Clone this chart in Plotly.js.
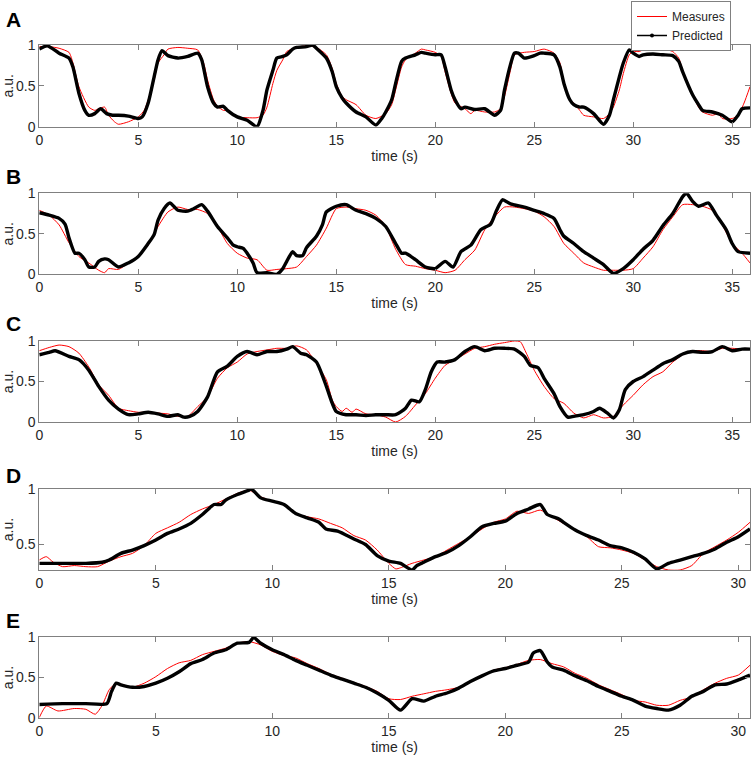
<!DOCTYPE html>
<html>
<head>
<meta charset="utf-8">
<script src="https://cdn.plot.ly/plotly-3.0.1.min.js"></script>
<style>
  html, body { margin: 0; padding: 0; background: #fff; }
  #chart { width: 754px; height: 761px; }
</style>
</head>
<body>
<div id="chart"></div>
<script>
// panel A - measured
var tA_meas = [0,0.5,1,1.5,1.7,2,2.5,2.8,3,3.3,3.5,3.8,4,4.5,5,5.3,5.5,5.8,6,6.3,6.5,7,7.5,8,8.3,8.5,8.8,9,9.3,9.5,10,10.5,11,11.3,11.5,11.8,12,12.3,12.5,13,13.5,14,14.5,14.8,15,15.3,15.5,16,16.5,17,17.5,17.8,18,18.3,18.5,19,19.3,19.5,20,20.3,20.5,20.8,21,21.5,21.8,22,22.5,23,23.3,23.5,23.8,24,24.5,25,25.5,26,26.3,26.5,26.8,27,27.3,27.5,28,28.5,28.8,29,29.3,29.5,29.8,30,30.3,30.5,31,31.5,32,32.3,32.5,33,33.3,33.5,34,34.3,34.5,35,35.3,35.6,35.9];
var A_meas = [0.98,0.98,0.96,0.91,0.78,0.49,0.24,0.2,0.22,0.24,0.14,0.06,0.03,0.06,0.12,0.2,0.33,0.57,0.78,0.88,0.95,0.97,0.96,0.94,0.78,0.57,0.33,0.25,0.2,0.2,0.12,0.11,0.11,0.14,0.24,0.53,0.69,0.82,0.92,0.97,0.99,0.97,0.88,0.71,0.53,0.37,0.33,0.27,0.14,0.1,0.16,0.27,0.45,0.73,0.82,0.9,0.95,0.94,0.91,0.86,0.67,0.41,0.29,0.22,0.16,0.2,0.18,0.18,0.22,0.37,0.69,0.88,0.91,0.92,0.95,0.9,0.78,0.53,0.33,0.29,0.2,0.14,0.12,0.1,0.16,0.24,0.45,0.65,0.88,0.92,0.92,0.94,0.96,0.95,0.92,0.84,0.69,0.39,0.24,0.18,0.14,0.16,0.1,0.1,0.14,0.29,0.49];
// panel A - predicted
var tA_pred = [0,0.4,1,1.5,1.7,2,2.3,2.5,2.8,3.1,3.4,3.7,4,4.5,5,5.2,5.5,5.8,6,6.2,6.5,7,7.5,8,8.2,8.5,8.8,9,9.3,9.5,10,10.5,11,11.3,11.5,11.8,12,12.3,12.5,12.8,13,13.5,13.8,14,14.5,14.8,15,15.3,15.5,16,16.5,17,17.3,17.5,17.8,18,18.3,18.5,19,19.3,19.5,20,20.3,20.5,20.8,21,21.3,21.5,22,22.5,23,23.3,23.5,23.8,24,24.2,24.5,25,25.3,25.5,26,26.3,26.5,26.8,27,27.3,27.5,28,28.5,28.8,29,29.3,29.5,29.8,30,30.3,30.5,31,31.5,32,32.3,32.5,33,33.3,33.5,34,34.5,35,35.3,35.5,35.9];
var A_pred = [0.95,0.99,0.9,0.84,0.73,0.41,0.2,0.14,0.16,0.22,0.16,0.14,0.14,0.13,0.1,0.12,0.29,0.61,0.82,0.93,0.87,0.84,0.86,0.9,0.82,0.49,0.29,0.24,0.25,0.2,0.12,0.08,0.0,0.2,0.45,0.69,0.84,0.86,0.88,0.95,0.97,0.98,1.0,0.96,0.84,0.67,0.49,0.35,0.29,0.18,0.12,0.02,0.1,0.18,0.33,0.53,0.8,0.84,0.88,0.91,0.9,0.88,0.88,0.73,0.45,0.33,0.22,0.24,0.21,0.22,0.14,0.2,0.45,0.76,0.9,0.9,0.84,0.87,0.9,0.9,0.88,0.73,0.53,0.33,0.27,0.24,0.24,0.16,0.03,0.14,0.33,0.61,0.78,0.94,0.9,0.86,0.88,0.89,0.88,0.87,0.8,0.67,0.39,0.27,0.2,0.18,0.14,0.06,0.14,0.22,0.23];

// panel B - measured
var tB_meas = [0,0.5,1,1.5,2,2.5,3,3.3,3.5,4,4.5,5,5.5,6,6.5,7,7.5,8,8.5,9,9.5,10,10.5,11,11.5,12,12.5,13,13.5,14,14.5,15,15.5,16,16.5,17,17.5,18,18.5,19,19.5,20,20.5,21,21.5,22,22.5,23,23.5,24,24.5,25,25.5,26,26.5,27,27.5,28,28.5,29,29.5,30,30.5,31,31.5,32,32.5,33,33.5,34,34.5,35,35.5,35.9];
var B_meas = [0.79,0.73,0.61,0.39,0.22,0.14,0.05,0.02,0.07,0.06,0.14,0.23,0.36,0.59,0.77,0.83,0.8,0.8,0.75,0.59,0.38,0.26,0.2,0.18,0.05,0.06,0.07,0.09,0.22,0.36,0.57,0.81,0.83,0.81,0.79,0.73,0.59,0.31,0.12,0.1,0.07,0.05,0.02,0.05,0.18,0.3,0.55,0.71,0.83,0.83,0.81,0.78,0.71,0.59,0.38,0.26,0.14,0.09,0.05,0.05,0.05,0.07,0.2,0.34,0.55,0.71,0.86,0.86,0.84,0.79,0.61,0.38,0.26,0.14];
// panel B - predicted
var tB_pred = [0,0.5,1,1.3,1.5,1.8,2,2.3,2.5,2.8,3,3.3,3.5,4,4.5,5,5.5,5.8,6,6.3,6.6,7,7.5,7.8,8.2,8.5,9,9.5,9.8,10,10.3,10.5,10.8,11,11.5,12,12.3,12.5,12.8,13,13.3,13.5,14,14.3,14.5,15,15.5,16,16.5,17,17.5,18,18.3,18.5,19,19.5,20,20.5,20.9,21.3,21.8,22.3,22.8,23.1,23.4,23.8,24.5,25,25.5,26,26.3,26.5,27,27.5,28,28.5,29,29.5,30,30.5,31,31.5,32,32.5,32.7,33,33.3,33.8,34.2,34.7,35,35.3,35.9];
var B_pred = [0.76,0.73,0.69,0.62,0.45,0.26,0.26,0.18,0.09,0.09,0.16,0.19,0.18,0.09,0.14,0.22,0.38,0.49,0.67,0.81,0.88,0.79,0.78,0.81,0.86,0.78,0.59,0.45,0.36,0.34,0.32,0.26,0.14,0.02,0.02,0.0,0.07,0.16,0.28,0.23,0.23,0.33,0.47,0.61,0.77,0.84,0.86,0.79,0.75,0.69,0.59,0.38,0.26,0.26,0.18,0.09,0.07,0.16,0.09,0.28,0.36,0.55,0.62,0.79,0.92,0.87,0.83,0.79,0.75,0.69,0.55,0.47,0.38,0.28,0.2,0.12,0.01,0.07,0.18,0.31,0.42,0.6,0.75,0.96,1.0,0.9,0.84,0.88,0.73,0.55,0.38,0.28,0.26];

// panel C - measured
var tC_meas = [0,0.5,1,1.5,2,2.5,3,3.5,4,4.5,5,5.5,6,6.5,7,7.5,8,8.5,9,9.5,10,10.5,11,11.5,12,12.5,13,13.5,14,14.5,14.8,15,15.3,15.5,15.8,16,16.5,17,17.5,18,18.5,19,19.5,20,20.5,21,21.5,22,22.5,23,23.5,24,24.3,24.6,25,25.5,26,26.5,27,27.5,28,28.5,29,29.5,30,30.5,31,31.5,32,32.5,33,33.5,34,34.5,35,35.5,35.9];
var C_meas = [0.88,0.92,0.95,0.93,0.85,0.68,0.46,0.33,0.17,0.14,0.12,0.12,0.11,0.1,0.07,0.07,0.19,0.31,0.54,0.67,0.74,0.84,0.87,0.89,0.91,0.91,0.94,0.89,0.72,0.52,0.27,0.19,0.13,0.17,0.12,0.16,0.1,0.09,0.06,0.0,0.07,0.21,0.35,0.54,0.7,0.77,0.84,0.91,0.93,0.96,0.98,1.0,0.99,0.85,0.64,0.44,0.29,0.23,0.11,0.05,0.09,0.05,0.07,0.21,0.33,0.46,0.56,0.62,0.74,0.83,0.88,0.88,0.87,0.91,0.91,0.9,0.9];
// panel C - predicted
var tC_pred = [0,0.5,0.8,1.5,2,2.5,3,3.5,4,4.5,5,5.5,6,6.5,7,7.3,7.6,8,8.5,9,9.5,10,10.5,11,11.5,12,12.5,12.8,13.2,13.5,14,14.5,14.8,15,15.5,16,16.5,17,17.5,18,18.5,18.8,19.2,19.5,19.8,20.1,20.5,21,21.5,22,22.5,23,23.5,24,24.5,24.8,25.2,25.5,26,26.3,26.7,27,27.5,28,28.3,28.7,29,29.3,29.6,30,30.5,31,31.5,32,32.5,33,33.5,34,34.5,35,35.5,35.9];
var C_pred = [0.83,0.86,0.88,0.81,0.77,0.64,0.44,0.27,0.16,0.09,0.1,0.12,0.1,0.07,0.09,0.06,0.07,0.13,0.31,0.62,0.69,0.81,0.87,0.83,0.87,0.87,0.9,0.93,0.85,0.83,0.74,0.44,0.23,0.13,0.09,0.09,0.08,0.09,0.09,0.09,0.17,0.27,0.25,0.4,0.62,0.74,0.74,0.77,0.87,0.93,0.88,0.91,0.91,0.9,0.81,0.7,0.67,0.54,0.35,0.19,0.06,0.07,0.09,0.13,0.17,0.11,0.05,0.15,0.4,0.5,0.56,0.64,0.72,0.77,0.84,0.87,0.86,0.87,0.93,0.88,0.9,0.9];

// panel D - measured
var tD_meas = [0,0.3,0.6,1,1.5,2,2.5,3,3.5,4,4.5,5,5.5,6,6.5,7,7.5,8,8.5,9,9.5,10,10.5,11,11.5,12,12.5,13,13.5,14,14.5,15,15.3,15.5,16,16.5,17,17.5,18,18.5,19,19.5,20,20.5,21,21.5,22,22.5,23,23.5,24,24.5,25,25.5,26,26.5,27,27.5,28,28.5,29,29.5,30,30.5];
var D_meas = [0.36,0.39,0.34,0.3,0.31,0.3,0.3,0.35,0.39,0.42,0.49,0.6,0.65,0.7,0.77,0.82,0.86,0.91,0.96,0.99,0.93,0.89,0.86,0.78,0.75,0.73,0.69,0.65,0.58,0.54,0.45,0.33,0.28,0.29,0.33,0.36,0.39,0.45,0.51,0.57,0.64,0.7,0.73,0.8,0.78,0.81,0.75,0.69,0.63,0.57,0.48,0.47,0.45,0.42,0.36,0.3,0.27,0.27,0.31,0.42,0.48,0.54,0.61,0.7];
// panel D - predicted
var tD_pred = [0,1,2,2.7,3,3.5,4,4.5,5,5.5,6,6.5,7,7.5,7.8,8,8.5,9,9.1,9.5,10,10.5,11,11.5,12,12.3,12.8,13.5,14,14.5,15,15.5,16,16.2,16.5,17,17.5,18,18.5,19,19.5,20,20.5,21,21.5,21.8,22.3,22.5,23,23.5,24,24.5,25,25.5,26,26.5,27,27.5,28,28.5,29,29.5,30,30.5];
var D_pred = [0.33,0.33,0.33,0.34,0.36,0.42,0.45,0.49,0.54,0.6,0.64,0.69,0.77,0.86,0.86,0.9,0.95,0.99,1.0,0.92,0.89,0.86,0.78,0.74,0.7,0.64,0.62,0.55,0.5,0.4,0.35,0.33,0.27,0.31,0.34,0.39,0.43,0.49,0.57,0.66,0.69,0.71,0.78,0.82,0.86,0.77,0.73,0.7,0.63,0.58,0.54,0.49,0.47,0.43,0.37,0.28,0.33,0.36,0.39,0.42,0.46,0.52,0.57,0.64];

// panel E - measured
var tE_meas = [0,0.3,0.8,1.5,2,2.4,2.7,3,3.3,3.6,4,4.5,5,5.5,6,6.5,7,7.5,8,8.5,9,9.5,10,10.5,11,11.5,12,12.5,13,13.5,14,14.5,15,15.5,16,16.5,17,17.5,18,18.5,19,19.5,20,20.5,21,21.5,22,22.5,23,23.5,24,24.5,25,25.5,26,26.5,27,27.5,28,28.5,29,29.5,30,30.5];
var E_meas = [0.01,0.15,0.09,0.12,0.11,0.05,0.16,0.35,0.43,0.41,0.38,0.43,0.51,0.61,0.68,0.71,0.78,0.82,0.86,0.92,0.94,0.9,0.82,0.77,0.74,0.67,0.61,0.54,0.49,0.44,0.39,0.33,0.24,0.23,0.27,0.3,0.33,0.35,0.38,0.45,0.52,0.59,0.62,0.66,0.71,0.72,0.67,0.63,0.55,0.49,0.41,0.35,0.29,0.22,0.2,0.16,0.16,0.22,0.26,0.35,0.43,0.49,0.53,0.65];
// panel E - predicted
var tE_pred = [0,1,2,2.9,3.1,3.3,3.5,4,4.5,5,5.5,6,6.5,7,7.5,8,8.5,9,9.2,9.5,10,10.5,11,11.5,12,12.5,13,13.5,14,14.5,15,15.5,16,16.5,17,17.5,18,18.5,19,19.5,20,20.5,21,21.2,21.5,21.8,22,22.5,23,23.5,24,24.5,25,25.5,26,26.5,27,27.5,28,28.5,29,29.5,30,30.5];
var E_pred = [0.17,0.18,0.18,0.18,0.33,0.43,0.41,0.38,0.39,0.43,0.49,0.57,0.67,0.72,0.8,0.84,0.92,0.93,0.99,0.92,0.84,0.78,0.71,0.65,0.59,0.53,0.48,0.43,0.38,0.31,0.22,0.1,0.24,0.21,0.27,0.31,0.37,0.45,0.52,0.58,0.61,0.65,0.69,0.8,0.83,0.69,0.63,0.59,0.52,0.46,0.39,0.33,0.27,0.22,0.15,0.12,0.1,0.16,0.27,0.33,0.41,0.42,0.47,0.53];

var panelLetters = ["A", "B", "C", "D", "E"];
var xMax = [35.9, 35.9, 35.9, 30.5, 30.5];
var xTicks = [[0,5,10,15,20,25,30,35],[0,5,10,15,20,25,30,35],[0,5,10,15,20,25,30,35],[0,5,10,15,20,25,30],[0,5,10,15,20,25,30]];
var yRange = [[0,1],[0,1],[0,1],[0.27,1],[0,1]];
var yTicks = [[0,0.5,1],[0,0.5,1],[0,0.5,1],[0.5,1],[0,0.5,1]];
var yTickText = [["0","0.5","1"],["0","0.5","1"],["0","0.5","1"],["0.5","1"],["0","0.5","1"]];

var measT = [tA_meas, tB_meas, tC_meas, tD_meas, tE_meas];
var measY = [A_meas, B_meas, C_meas, D_meas, E_meas];
var predT = [tA_pred, tB_pred, tC_pred, tD_pred, tE_pred];
var predY = [A_pred, B_pred, C_pred, D_pred, E_pred];

// pixel placement of each plot box (top, bottom) in a 761px tall figure
var boxPx = [[45,126.7],[193.3,274.3],[341,422],[489,570],[636.7,718.3]];
var letterPx = [20, 177, 323, 475, 620];
var H = 761, W = 754;

var font = "Liberation Sans, Arial, Helvetica, sans-serif";
var txtColor = "#262626";
var axColor = "#808080";

var data = [];
var layout = {
    width: W, height: H,
    margin: {l: 0, r: 0, t: 0, b: 0},
    paper_bgcolor: "#fff",
    plot_bgcolor: "#fff",
    font: {family: font, size: 14, color: txtColor},
    showlegend: true,
    legend: {
        x: 631 / W, y: 1 - 1 / H, xanchor: "left", yanchor: "top",
        bordercolor: axColor, borderwidth: 1, bgcolor: "#fff",
        font: {family: font, size: 12, color: txtColor},
        tracegroupgap: 0
    },
    annotations: []
};

for (var i = 0; i < 5; i++) {
    var sfx = i === 0 ? "" : String(i + 1);
    data.push({
        type: "scatter", mode: "lines",
        x: measT[i], y: measY[i],
        xaxis: "x" + sfx, yaxis: "y" + sfx,
        name: "Measures",
        line: {color: "#ff0000", width: 1, shape: "spline", smoothing: 0.6},
        showlegend: false
    });
    data.push({
        type: "scatter", mode: "lines",
        x: predT[i], y: predY[i],
        xaxis: "x" + sfx, yaxis: "y" + sfx,
        name: "Predicted",
        line: {color: "#000", width: 3.4, shape: "spline", smoothing: 0.6},
        showlegend: false
    });

    layout["xaxis" + sfx] = {
        domain: [39.3 / W, 750 / W],
        anchor: "y" + sfx,
        range: [0, xMax[i]],
        tickvals: xTicks[i],
        ticks: "inside", ticklen: 5, tickcolor: axColor,
        showline: true, linecolor: axColor, linewidth: 1, mirror: "ticks",
        showgrid: false, zeroline: false,
        tickfont: {family: font, size: 14, color: txtColor},
        title: {text: "time (s)", font: {family: font, size: 14, color: txtColor}, standoff: 4}
    };
    layout["yaxis" + sfx] = {
        domain: [1 - boxPx[i][1] / H, 1 - boxPx[i][0] / H],
        anchor: "x" + sfx,
        range: yRange[i],
        tickvals: yTicks[i], ticktext: yTickText[i],
        ticks: "inside", ticklen: 5, tickcolor: axColor,
        showline: true, linecolor: axColor, linewidth: 1, mirror: "ticks",
        showgrid: false, zeroline: false,
        tickfont: {family: font, size: 14, color: txtColor},
        title: {text: "a.u.", font: {family: font, size: 14, color: txtColor}, standoff: 4}
    };

    layout.annotations.push({
        text: "<b>" + panelLetters[i] + "</b>",
        xref: "paper", yref: "paper",
        x: 4 / W, y: 1 - letterPx[i] / H,
        xanchor: "left", yanchor: "middle",
        showarrow: false,
        font: {family: font, size: 21, color: "#000"}
    });
}

// legend-only entries (thin line, dot marker on Predicted as in the original key)
data.push({
    type: "scatter", mode: "lines", x: [null], y: [null],
    name: "Measures", line: {color: "#ff0000", width: 1}, hoverinfo: "skip"
});
data.push({
    type: "scatter", mode: "lines+markers", x: [null], y: [null],
    name: "Predicted", line: {color: "#000", width: 1.5},
    marker: {color: "#000", size: 4}, hoverinfo: "skip"
});

Plotly.newPlot("chart", data, layout, {displayModeBar: false});
</script>
</body>
</html>
